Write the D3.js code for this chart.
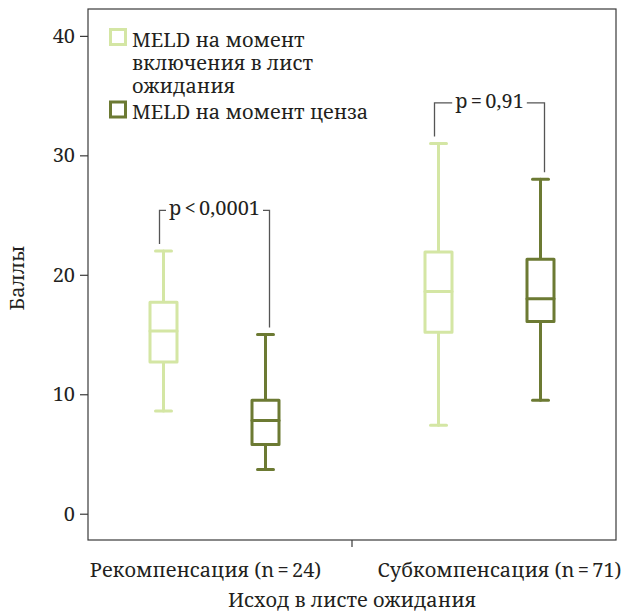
<!DOCTYPE html>
<html>
<head>
<meta charset="utf-8">
<script src="https://cdn.jsdelivr.net/npm/d3@7"></script>
<style>
  html, body { margin: 0; padding: 0; background: #fff; }
</style>
</head>
<body>
<svg id="chart" width="621" height="612"></svg>
<script>
// Outcome groups on the x axis
const categories = ["Рекомпенсация (n\u2009=\u200924)", "Субкомпенсация (n\u2009=\u200971)"];

// Two MELD measurements per group
const seriesKeys = ["inclusion", "censor"];
const seriesLabels = [["MELD на момент", "включения в лист", "ожидания"], ["MELD на момент ценза"]];
const seriesColors = ["#d4e6a4", "#6c7a33"];

// Box-plot statistics, one value per category
const inclusionLow    = [8.6, 7.4];
const inclusionQ1     = [12.7, 15.2];
const inclusionMedian = [15.3, 18.6];
const inclusionQ3     = [17.7, 21.9];
const inclusionHigh   = [22.0, 31.0];

const censorLow    = [3.7, 9.5];
const censorQ1     = [5.8, 16.1];
const censorMedian = [7.8, 18.0];
const censorQ3     = [9.5, 21.3];
const censorHigh   = [15.0, 28.0];

// Comparison between the two measurements in each group
const pValues = ["p\u2009<\u20090,0001", "p\u2009=\u20090,91"];

const yTicks = [0, 10, 20, 30, 40];
const yTitle = "Баллы";
const xTitle = "Исход в листе ожидания";

const stats = {
  inclusion: categories.map((c, i) => ({ low: inclusionLow[i], q1: inclusionQ1[i], med: inclusionMedian[i], q3: inclusionQ3[i], high: inclusionHigh[i] })),
  censor:    categories.map((c, i) => ({ low: censorLow[i], q1: censorQ1[i], med: censorMedian[i], q3: censorQ3[i], high: censorHigh[i] }))
};

const FONT = "'Noto Serif', 'Liberation Serif', serif";
const fontSize = 20;
const textColor = "#231f20";

const svg = d3.select("#chart");
const frame = { left: 88, right: 616, top: 9, bottom: 540 };

const y = d3.scaleLinear().domain([-2.2, 42.25]).range([frame.bottom, frame.top]);
const x = d3.scalePoint().domain(categories).range([frame.left, frame.right]).padding(0.46);
const xSub = d3.scalePoint().domain(seriesKeys).range([-51, 51]);
const boxW = 27;
const capW = 16;

function label(sel) {
  return sel.attr("font-family", FONT).attr("font-size", fontSize).attr("fill", textColor);
}

// Plot frame
svg.append("rect")
  .attr("x", frame.left).attr("y", frame.top)
  .attr("width", frame.right - frame.left).attr("height", frame.bottom - frame.top)
  .attr("fill", "none").attr("stroke", "#3a3a3a").attr("stroke-width", 1.2);

// Y axis
const yAxis = svg.append("g")
  .attr("transform", `translate(${frame.left},0)`)
  .call(d3.axisLeft(y).tickValues(yTicks).tickSize(8).tickPadding(5).tickFormat(d3.format("d")));
yAxis.select(".domain").remove();
yAxis.selectAll(".tick line").attr("stroke", "#3a3a3a").attr("stroke-width", 1.2);
yAxis.selectAll(".tick text").call(label);

// Separator tick between the two groups
const midX = (x(categories[0]) + x(categories[1])) / 2;
svg.append("line")
  .attr("x1", midX).attr("x2", midX)
  .attr("y1", frame.bottom).attr("y2", frame.bottom + 7)
  .attr("stroke", "#3a3a3a").attr("stroke-width", 1.2);

// Category labels
const labelShift = [-9, 10];
svg.selectAll(".cat")
  .data(categories)
  .join("text")
  .attr("class", "cat")
  .attr("x", (d, i) => x(d) + labelShift[i])
  .attr("y", 577)
  .attr("text-anchor", "middle")
  .call(label)
  .text(d => d);

// Axis titles
svg.append("text")
  .attr("x", midX).attr("y", 607)
  .attr("text-anchor", "middle")
  .call(label)
  .text(xTitle);

svg.append("text")
  .attr("transform", "translate(23.5,278) rotate(-90)")
  .attr("text-anchor", "middle")
  .call(label)
  .text(yTitle);

// Box plots
seriesKeys.forEach((key, si) => {
  const g = svg.append("g")
    .attr("fill", "none")
    .attr("stroke", seriesColors[si])
    .attr("stroke-width", 3)
    .attr("stroke-linejoin", "round")
    .attr("stroke-linecap", "round");
  stats[key].forEach((s, ci) => {
    const cx = x(categories[ci]) + xSub(key);
    g.append("line").attr("x1", cx).attr("x2", cx).attr("y1", y(s.high)).attr("y2", y(s.q3));
    g.append("line").attr("x1", cx).attr("x2", cx).attr("y1", y(s.q1)).attr("y2", y(s.low));
    g.append("line").attr("x1", cx - capW / 2).attr("x2", cx + capW / 2).attr("y1", y(s.high)).attr("y2", y(s.high));
    g.append("line").attr("x1", cx - capW / 2).attr("x2", cx + capW / 2).attr("y1", y(s.low)).attr("y2", y(s.low));
    g.append("rect")
      .attr("x", cx - boxW / 2).attr("y", y(s.q3))
      .attr("width", boxW).attr("height", y(s.q1) - y(s.q3))
      .attr("fill", "#fff");
    g.append("line").attr("x1", cx - boxW / 2).attr("x2", cx + boxW / 2).attr("y1", y(s.med)).attr("y2", y(s.med));
  });
});

// Significance brackets
categories.forEach((c, ci) => {
  const a = stats.inclusion[ci], b = stats.censor[ci];
  const top = Math.max(a.high, b.high) + 3.4;
  const xl = x(c) + xSub("inclusion") - 4;
  const xr = x(c) + xSub("censor") + 4;
  const yt = y(top);
  const g = svg.append("g").attr("stroke", "#555").attr("stroke-width", 1.3).attr("fill", "none");
  const t = svg.append("text")
    .attr("x", (xl + xr) / 2).attr("y", yt)
    .attr("dy", "0.24em")
    .attr("text-anchor", "middle")
    .call(label)
    .text(pValues[ci]);
  const w = t.node().getComputedTextLength();
  const gap = 3;
  g.append("path").attr("d", `M${xl},${y(a.high) - 7}V${yt}H${(xl + xr) / 2 - w / 2 - gap}`);
  g.append("path").attr("d", `M${(xl + xr) / 2 + w / 2 + gap},${yt}H${xr}V${y(b.high) - 7}`);
});

// Legend
const legend = svg.append("g").attr("transform", "translate(110.5,29.5)");
const lineH = 23;
let ly = 0;
seriesKeys.forEach((key, si) => {
  legend.append("rect")
    .attr("x", 0).attr("y", ly)
    .attr("width", 15).attr("height", 15)
    .attr("fill", "#fff")
    .attr("stroke", seriesColors[si]).attr("stroke-width", 3);
  seriesLabels[si].forEach((line, li) => {
    legend.append("text")
      .attr("x", 21.5).attr("y", ly + 17 + li * lineH)
      .call(label)
      .text(line);
  });
  ly += seriesLabels[si].length * lineH + 3.5;
});
</script>
</body>
</html>
